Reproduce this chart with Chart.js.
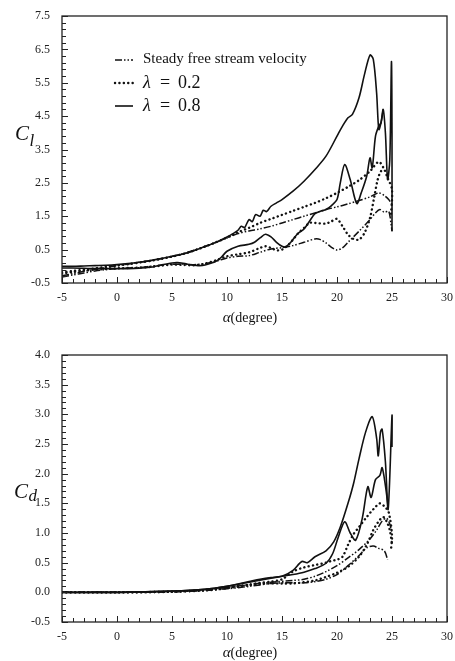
<!DOCTYPE html>
<html><head><meta charset="utf-8">
<script src="https://cdn.jsdelivr.net/npm/chart.js@4"></script>
<style>
html,body{margin:0;padding:0;background:#fff;}
#wrap{position:relative;width:455px;height:661px;overflow:hidden;background:#fff;}
.box{position:absolute;left:0;width:455px;}
#top{top:0;height:330px;}
#bot{top:330px;height:331px;}
</style></head><body>
<div id="wrap">
<div class="box" id="top"><canvas id="c1" width="455" height="330"></canvas></div>
<div class="box" id="bot"><canvas id="c2" width="455" height="331"></canvas></div>
</div>
<script>
// ---------- tick labels ----------
const xTicks = [-5, 0, 5, 10, 15, 20, 25, 30];
const clTicks = [-0.5, 0.5, 1.5, 2.5, 3.5, 4.5, 5.5, 6.5, 7.5];
const cdTicks = [-0.5, 0, 0.5, 1, 1.5, 2, 2.5, 3, 3.5, 4];
const seriesNames = ['Steady free stream velocity', 'λ = 0.2', 'λ = 0.8'];

// ---------- Cl : steady, upper branch ----------
const clSteadyUpA = [-5,-4,-3,-2,-1,0,1,2,3,4,5,6,7,8,9,10,11,12,13,14,15,16,17,18,19,20,21,22,23,23.8,24.3,24.7,25];
const clSteadyUp  = [-0.28,-0.22,-0.15,-0.09,-0.03,0.02,0.07,0.12,0.17,0.23,0.3,0.38,0.48,0.6,0.72,0.85,0.98,1.06,1.12,1.2,1.3,1.4,1.5,1.6,1.7,1.78,1.87,1.97,2.08,2.2,2.12,2.0,1.85];
// ---------- Cl : steady, lower branch ----------
const clSteadyLoA = [-5,-4,-3,-2,-1,0,1,2,3,4,5,6,7,8,9,10,11,12,13,14,15,16,17,18,18.5,19,19.5,20,20.5,21,22,23,23.5,23.9,24.3,24.7,24.9,25];
const clSteadyLo  = [-0.32,-0.26,-0.2,-0.14,-0.1,-0.07,-0.05,-0.04,0.0,0.03,0.06,0.06,0.05,0.08,0.15,0.25,0.3,0.32,0.42,0.52,0.56,0.62,0.72,0.82,0.8,0.7,0.57,0.49,0.55,0.72,1.05,1.4,1.6,1.7,1.62,1.65,1.3,1.05];

// ---------- Cl : lambda 0.2 ----------
const clL02UpA = [-5,-4,-3,-2,-1,0,1,2,3,4,5,6,7,8,9,10,11,12,13,14,15,16,17,18,19,20,21,22,23,23.8,24.3,24.6,25,24.9];
const clL02Up  = [-0.18,-0.14,-0.1,-0.06,-0.02,0.02,0.06,0.11,0.16,0.22,0.29,0.37,0.47,0.59,0.72,0.86,1.02,1.15,1.3,1.42,1.54,1.66,1.78,1.9,2.04,2.2,2.38,2.58,2.85,3.13,2.9,2.65,2.3,1.5];
const clL02LoA = [-5,-4,-3,-2,-1,0,1,2,3,4,5,6,7,8,9,10,11,12,13,13.5,14,14.5,15,15.5,16,16.5,17,17.5,18,19,19.5,20,20.5,21,21.5,22,22.5,23,23.4,23.7,24,24.3];
const clL02Lo  = [-0.22,-0.17,-0.13,-0.1,-0.08,-0.06,-0.05,-0.04,-0.02,0.02,0.05,0.04,0.03,0.08,0.18,0.3,0.36,0.42,0.55,0.6,0.55,0.48,0.5,0.62,0.8,1.0,1.15,1.3,1.3,1.28,1.35,1.42,1.2,0.95,0.82,0.8,1.0,1.45,2.1,2.6,2.85,2.9];

// ---------- Cl : lambda 0.8 ----------
const clL08UpA = [-5,-4,-3,-2,-1,0,1,2,3,4,5,6,7,8,9,10,10.5,11,11.3,11.6,12,12.3,12.6,13,13.3,13.6,14,14.5,15,16,17,18,19,20,20.5,21,21.4,22,22.5,23,23.3,23.6,23.8,24,24.2,24.4,24.6,24.8,24.95,25,25];
const clL08Up  = [0.0,0.0,0.01,0.02,0.03,0.05,0.08,0.12,0.17,0.23,0.3,0.37,0.47,0.59,0.72,0.88,0.97,1.08,1.2,1.16,1.4,1.34,1.55,1.5,1.68,1.64,1.8,1.9,2.0,2.25,2.55,2.9,3.3,3.9,4.2,4.45,4.55,5.05,5.75,6.33,6.2,5.2,4.1,4.3,4.7,4.0,2.6,3.2,6.13,4.0,1.05];
const clL08LoA = [-5,-4,-3,-2,-1,0,1,2,3,4,5,5.5,6,7,7.5,8,9,9.5,10,11,12,12.5,13,13.5,14,14.5,15,15.3,15.8,16.4,17,17.5,18,18.5,19,19.5,20,20.3,20.7,21.2,21.8,22.2,22.7,23,23.2,23.5,23.8,24,24.2];
const clL08Lo  = [-0.05,-0.05,-0.06,-0.07,-0.07,-0.07,-0.07,-0.06,-0.03,0.04,0.1,0.11,0.09,0.03,0.02,0.04,0.15,0.28,0.45,0.6,0.66,0.72,0.85,0.96,0.88,0.72,0.6,0.58,0.72,0.97,1.12,1.35,1.58,1.65,1.7,1.82,2.0,2.5,3.05,2.6,1.88,2.2,2.7,3.25,2.95,3.9,4.2,4.3,4.7];

// ---------- Cd : steady ----------
const cdSteadyUpA = [-5,0,5,8,10,12,14,16,17,18,19,20,21,22,23,23.6,24.1,24.5,24.8,25];
const cdSteadyUp  = [0.0,0.0,0.01,0.04,0.08,0.13,0.17,0.2,0.22,0.27,0.35,0.45,0.58,0.72,0.9,1.05,1.2,1.25,1.15,1.0];
const cdSteadyLoA = [-5,0,5,8,10,12,14,15,16,17,18,19,20,21,22,22.7,23.3,23.8,24.3,24.6];
const cdSteadyLo  = [0.0,0.0,0.01,0.03,0.06,0.1,0.15,0.16,0.16,0.16,0.18,0.22,0.3,0.45,0.62,0.75,0.78,0.74,0.7,0.55];
// ---------- Cd : lambda 0.2 ----------
const cdL02UpA = [-5,0,5,8,10,12,13,14,15,16,17,18,19,19.5,20,20.5,21,21.5,22,22.7,23.3,23.9,24.3,24.7,25,24.9];
const cdL02Up  = [0.0,0.0,0.01,0.04,0.08,0.13,0.16,0.18,0.22,0.35,0.42,0.46,0.5,0.53,0.55,0.6,0.8,0.98,1.1,1.27,1.4,1.5,1.45,1.35,0.95,0.7];
const cdL02LoA = [-5,0,5,8,10,12,13,14,15,16,17,18,19,20,21,22,22.7,23.3,23.8,24.2,24.5,24.8,25];
const cdL02Lo  = [0.0,0.0,0.01,0.03,0.07,0.12,0.14,0.15,0.15,0.15,0.17,0.2,0.26,0.33,0.43,0.6,0.8,1.05,1.2,1.27,1.2,1.05,0.82];
// ---------- Cd : lambda 0.8 ----------
const cdL08UpA = [-5,0,5,8,10,11,12,13,14,15,16,16.8,17.3,18,19,19.7,20.3,21,21.5,22,22.6,23.2,23.6,23.75,23.95,24.1,24.4,24.65,25,25];
const cdL08Up  = [0.0,0.0,0.02,0.05,0.1,0.14,0.18,0.22,0.25,0.27,0.37,0.52,0.5,0.6,0.7,0.85,1.1,1.5,1.83,2.25,2.7,2.96,2.6,2.3,2.7,2.75,2.2,1.4,2.98,2.45];
const cdL08LoA = [-5,0,5,8,10,12,14,15,16,17,18,19,19.6,20.1,20.7,21.2,21.7,22.3,22.8,23.1,23.5,23.9,24.1,24.4,24.65];
const cdL08Lo  = [0.0,0.0,0.02,0.05,0.1,0.17,0.24,0.27,0.3,0.34,0.4,0.49,0.65,0.92,1.19,1.0,0.88,1.25,1.78,1.6,1.9,1.97,2.1,1.8,1.44];

// ---------- styles ----------
const INK = '#111';
const styles = [
  {borderDash:[7,2,1.5,2,1.5,2], borderWidth:1.5, borderCapStyle:'butt'},
  {borderDash:[0.1,4.3], borderWidth:2.4, borderCapStyle:'round'},
  {borderDash:[], borderWidth:1.6, borderCapStyle:'butt'}
];

function pts(xs, ys){ return xs.map((v,i)=>({x:v, y:ys[i]})); }
function ds(label, xs, ys, s){
  return Object.assign({label, data:pts(xs,ys), showLine:true, pointRadius:0, borderColor:INK,
    backgroundColor:INK, fill:false, tension:0.3, borderJoinStyle:'round'}, s);
}

const serif = '"Liberation Serif", "DejaVu Serif", serif';

const decoPlugin = {
  id:'deco',
  afterDraw(chart, args, o){
    const {ctx, chartArea:a, scales:{x, y}} = chart;
    ctx.save();
    // frame
    ctx.strokeStyle = '#222'; ctx.lineWidth = 1.3; ctx.setLineDash([]);
    ctx.strokeRect(a.left, a.top, a.right - a.left, a.bottom - a.top);
    // inward ticks
    ctx.lineWidth = 1; ctx.beginPath();
    for (let v = x.min; v <= x.max + 1e-9; v += 1) {
      const px = Math.round(x.getPixelForValue(v)) + 0.5;
      const len = (Math.abs(Math.round(v)) % 5 === 0) ? 6 : 4;
      ctx.moveTo(px, a.bottom); ctx.lineTo(px, a.bottom - len);
    }
    const n = Math.round((y.max - y.min) / o.yMinor);
    for (let i = 0; i <= n; i++) {
      const v = y.min + i * o.yMinor;
      const py = Math.round(y.getPixelForValue(v)) + 0.5;
      const isMajor = Math.abs(((v - y.min) / o.yMajor) - Math.round((v - y.min) / o.yMajor)) < 1e-6;
      ctx.moveTo(a.left, py); ctx.lineTo(a.left + (isMajor ? 6 : 4), py);
    }
    ctx.stroke();
    // axis title alpha(degree)
    ctx.fillStyle = INK; ctx.textBaseline = 'middle';
    ctx.font = 'italic 15px ' + serif;
    const w1 = ctx.measureText('α').width;
    ctx.font = '14px ' + serif;
    const w2 = ctx.measureText('(degree)').width;
    let tx = o.titleX - (w1 + w2) / 2;
    ctx.font = 'italic 15px ' + serif; ctx.textAlign = 'left';
    ctx.fillText('α', tx, o.titleY);
    ctx.font = '14px ' + serif;
    ctx.fillText('(degree)', tx + w1, o.titleY);
    // y label
    ctx.textBaseline = 'alphabetic';
    ctx.font = 'italic 21px ' + serif;
    ctx.fillText('C', o.ylx, o.yly);
    const cw = ctx.measureText('C').width;
    ctx.font = 'italic 17px ' + serif;
    ctx.fillText(o.sub, o.ylx + cw + 0.5, o.yly + o.subDy);
    // legend
    if (o.legend) {
      const L = o.legend;
      chart.data.datasets.forEach((d, i) => {
        if (i % 2) return;
        const k = i / 2;
        const cy = L.y + k * L.dy;
        ctx.save();
        ctx.strokeStyle = INK;
        ctx.lineWidth = d.borderWidth;
        ctx.lineCap = d.borderCapStyle;
        ctx.setLineDash(d.borderDash);
        ctx.beginPath(); ctx.moveTo(L.x, cy); ctx.lineTo(L.x + L.len, cy); ctx.stroke();
        ctx.restore();
        ctx.textBaseline = 'middle'; ctx.textAlign = 'left'; ctx.fillStyle = INK;
        const name = seriesNames[k];
        if (name.startsWith('λ')) {
          const parts = name.split(' ');
          ctx.font = 'italic 18px ' + serif;
          ctx.fillText(parts[0], L.tx, cy);
          ctx.font = '18px ' + serif;
          ctx.fillText(parts[1], L.tx + 17, cy);
          ctx.fillText(parts[2], L.tx + 35, cy);
        } else {
          ctx.font = '15px ' + serif;
          ctx.fillText(name, L.tx, cy - 1);
        }
      });
    }
    ctx.restore();
  }
};

function makeChart(id, datasets, yTicksArr, deco, xH, pad, fmt){
  return new Chart(document.getElementById(id), {
    type:'scatter',
    data:{datasets},
    options:{
      responsive:false, animation:false, devicePixelRatio:1,
      layout:{padding:pad},
      plugins:{legend:{display:false}, tooltip:{enabled:false}, deco},
      scales:{
        x:{type:'linear', min:-5, max:30,
          afterBuildTicks:s=>{ s.ticks = xTicks.map(v=>({value:v})); },
          afterFit:s=>{ s.height = xH; s.paddingRight = 8; s.paddingLeft = 0; },
          grid:{display:false, drawTicks:false}, border:{display:false},
          ticks:{padding:8, color:'#222', font:{family:serif, size:12}, maxRotation:0, autoSkip:false}},
        y:{type:'linear', min:yTicksArr[0], max:yTicksArr[yTicksArr.length-1],
          afterBuildTicks:s=>{ s.ticks = yTicksArr.map(v=>({value:v})); },
          afterFit:s=>{ s.width = 62; s.paddingTop = 0; s.paddingBottom = 0; },
          grid:{display:false, drawTicks:false}, border:{display:false},
          ticks:{padding:12, color:'#222', font:{family:serif, size:12}, autoSkip:false,
            callback:v=>fmt(v)}}
      }
    },
    plugins:[decoPlugin]
  });
}

const clSets = [
  ds(seriesNames[0], clSteadyUpA, clSteadyUp, styles[0]),
  ds(seriesNames[0]+' (b)', clSteadyLoA, clSteadyLo, styles[0]),
  ds(seriesNames[1], clL02UpA, clL02Up, styles[1]),
  ds(seriesNames[1]+' (b)', clL02LoA, clL02Lo, styles[1]),
  ds(seriesNames[2], clL08UpA, clL08Up, styles[2]),
  ds(seriesNames[2]+' (b)', clL08LoA, clL08Lo, styles[2])
];
const cdSets = [
  ds(seriesNames[0], cdSteadyUpA, cdSteadyUp, styles[0]),
  ds(seriesNames[0]+' (b)', cdSteadyLoA, cdSteadyLo, styles[0]),
  ds(seriesNames[1], cdL02UpA, cdL02Up, styles[1]),
  ds(seriesNames[1]+' (b)', cdL02LoA, cdL02Lo, styles[1]),
  ds(seriesNames[2], cdL08UpA, cdL08Up, styles[2]),
  ds(seriesNames[2]+' (b)', cdL08LoA, cdL08Lo, styles[2])
];

makeChart('c1', clSets, clTicks,
  {yMinor:0.2, yMajor:1, titleX:250, titleY:318, ylx:15, yly:140, sub:'l', subDy:6,
   legend:{x:115, len:18, tx:143, y:60, dy:23}},
  47, {left:0, right:0, top:16, bottom:0}, v=>v.toFixed(1));
makeChart('c2', cdSets, cdTicks,
  {yMinor:0.1, yMajor:0.5, titleX:250, titleY:323, ylx:14, yly:168, sub:'d', subDy:3},
  39, {left:0, right:0, top:25, bottom:0}, v=>v.toFixed(1));
</script>
</body></html>
